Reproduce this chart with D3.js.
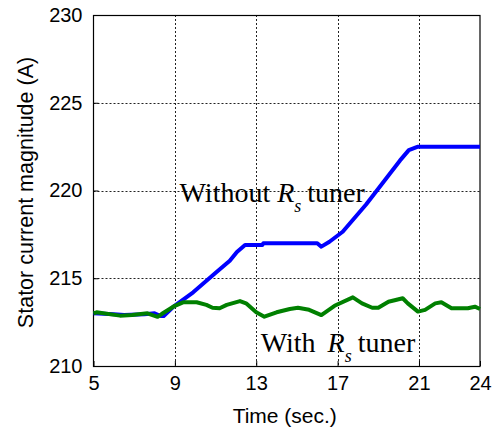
<!DOCTYPE html>
<html>
<head>
<meta charset="utf-8">
<script src="https://cdn.jsdelivr.net/npm/d3@7"></script>
<style>
  body { margin: 0; background: #fff; }
  svg { display: block; }
</style>
</head>
<body>
<div id="chart"></div>
<script>
// time axis ticks and current ticks
var xTicks = [5, 9, 13, 17, 21, 24];
var yTicks = [210, 215, 220, 225, 230];

// Without Rs tuner (blue)
var tWithout = [5, 6, 6.5, 7.5, 8.0, 8.3, 8.45, 8.9, 9.9, 11.05, 11.7, 12.05, 12.45, 13.3, 13.35,
  16.0, 16.2, 16.6, 17.25, 18.4, 19.5, 20.06, 20.5, 20.95, 24];
var iWithout = [213.0, 212.95, 212.9, 212.95, 213.0, 212.85, 212.85, 213.35, 214.2, 215.35, 216.0, 216.5, 216.9, 216.9, 217.0,
  217.0, 216.8, 217.08, 217.65, 219.2, 220.85, 221.7, 222.3, 222.5, 222.5];

// With Rs tuner (green)
var tWith = [5, 5.15, 6.3, 6.9, 7.65, 7.9, 8.15, 8.35, 9.0, 9.4, 10.07, 10.55, 10.85, 11.2, 11.55, 12.2, 12.5,
  13.0, 13.4, 14.0, 14.65, 15.05, 15.6, 16.2, 16.85, 17.75, 18.2, 18.7, 19.0, 19.5, 20.2, 20.45,
  20.95, 21.3, 21.8, 22.1, 22.6, 23.4, 23.75, 24];
var iWith = [213.0, 213.06, 212.87, 212.9, 213.0, 212.9, 212.8, 212.96, 213.43, 213.63, 213.63, 213.48, 213.32, 213.29, 213.48, 213.7, 213.57,
  213.06, 212.81, 213.06, 213.25, 213.32, 213.2, 212.9, 213.43, 213.91, 213.57, 213.32, 213.32, 213.66, 213.86, 213.57,
  213.1, 213.2, 213.57, 213.63, 213.29, 213.29, 213.38, 213.25];

var width = 493, height = 429;
var margin = {left: 93.5, right: 13, top: 15, bottom: 63};

var svg = d3.select("#chart").append("svg")
  .attr("width", width).attr("height", height);

var x = d3.scaleLinear().domain([5, 24]).range([margin.left, width - margin.right]);
var y = d3.scaleLinear().domain([210, 230]).range([height - margin.bottom, margin.top]);

var x0 = x.range()[0], x1 = x.range()[1], y0 = y.range()[0], y1 = y.range()[1];

// grid
var grid = svg.append("g").attr("stroke", "#222").attr("stroke-width", 1).attr("stroke-dasharray", "2,2");
grid.selectAll(".gx").data(xTicks.slice(1, -1)).enter().append("line")
  .attr("x1", d => Math.round(x(d)) + 0.5).attr("x2", d => Math.round(x(d)) + 0.5)
  .attr("y1", y1).attr("y2", y0);
grid.selectAll(".gy").data(yTicks.slice(1, -1)).enter().append("line")
  .attr("x1", x0).attr("x2", x1)
  .attr("y1", d => Math.round(y(d)) + 0.5).attr("y2", d => Math.round(y(d)) + 0.5);

// box
svg.append("rect").attr("x", x0).attr("y", y1 + 0.5).attr("width", x1 - x0).attr("height", y0 - y1)
  .attr("fill", "none").attr("stroke", "#000").attr("stroke-width", 1.2);

// axes with inward ticks
var fontTick = "20px 'Liberation Sans', Arial, sans-serif";
svg.append("g").attr("transform", `translate(0,${y0})`)
  .call(d3.axisBottom(x).tickValues(xTicks).tickSize(-5).tickPadding(10))
  .call(g => g.select(".domain").remove())
  .call(g => g.selectAll("text").style("font", fontTick).attr("fill", "#000"));
svg.append("g").attr("transform", `translate(${x0},0)`)
  .call(d3.axisLeft(y).tickValues(yTicks).tickSize(-5).tickPadding(11))
  .call(g => g.select(".domain").remove())
  .call(g => g.selectAll("text").style("font", fontTick).attr("fill", "#000"));

// lines
var line = d3.line().x(d => x(d[0])).y(d => y(d[1]));
svg.append("path")
  .datum(tWithout.map((t, i) => [t, iWithout[i]]))
  .attr("d", line).attr("fill", "none").attr("stroke", "#0000ff")
  .attr("stroke-width", 4).attr("stroke-linejoin", "round");
svg.append("path")
  .datum(tWith.map((t, i) => [t, iWith[i]]))
  .attr("d", line).attr("fill", "none").attr("stroke", "#008000")
  .attr("stroke-width", 4).attr("stroke-linejoin", "round");

// annotations
function label(tx, vy, pre, gap) {
  var t = svg.append("text")
    .attr("x", x(tx)).attr("y", y(vy))
    .style("font", "28px 'Liberation Serif', 'Times New Roman', serif")
    .attr("fill", "#000");
  t.append("tspan").text(pre);
  t.append("tspan").attr("dx", gap).style("font-style", "italic").text("R");
  t.append("tspan").attr("dy", 10).style("font-size", "18px").style("font-style", "italic").text("s");
  t.append("tspan").attr("dy", -10).attr("dx", 6).text("tuner");
}
label(9.23, 219.35, "Without", 7);
label(13.22, 210.8, "With", 12);

// axis titles
svg.append("text")
  .attr("x", (x0 + x1) / 2 - 2).attr("y", 423)
  .attr("text-anchor", "middle")
  .style("font", "21px 'Liberation Sans', Arial, sans-serif")
  .text("Time (sec.)");
svg.append("text")
  .attr("transform", `translate(33,${(y0 + y1) / 2 + 2}) rotate(-90)`)
  .attr("text-anchor", "middle")
  .style("font", "21.5px 'Liberation Sans', Arial, sans-serif")
  .text("Stator current magnitude (A)");
</script>
</body>
</html>
